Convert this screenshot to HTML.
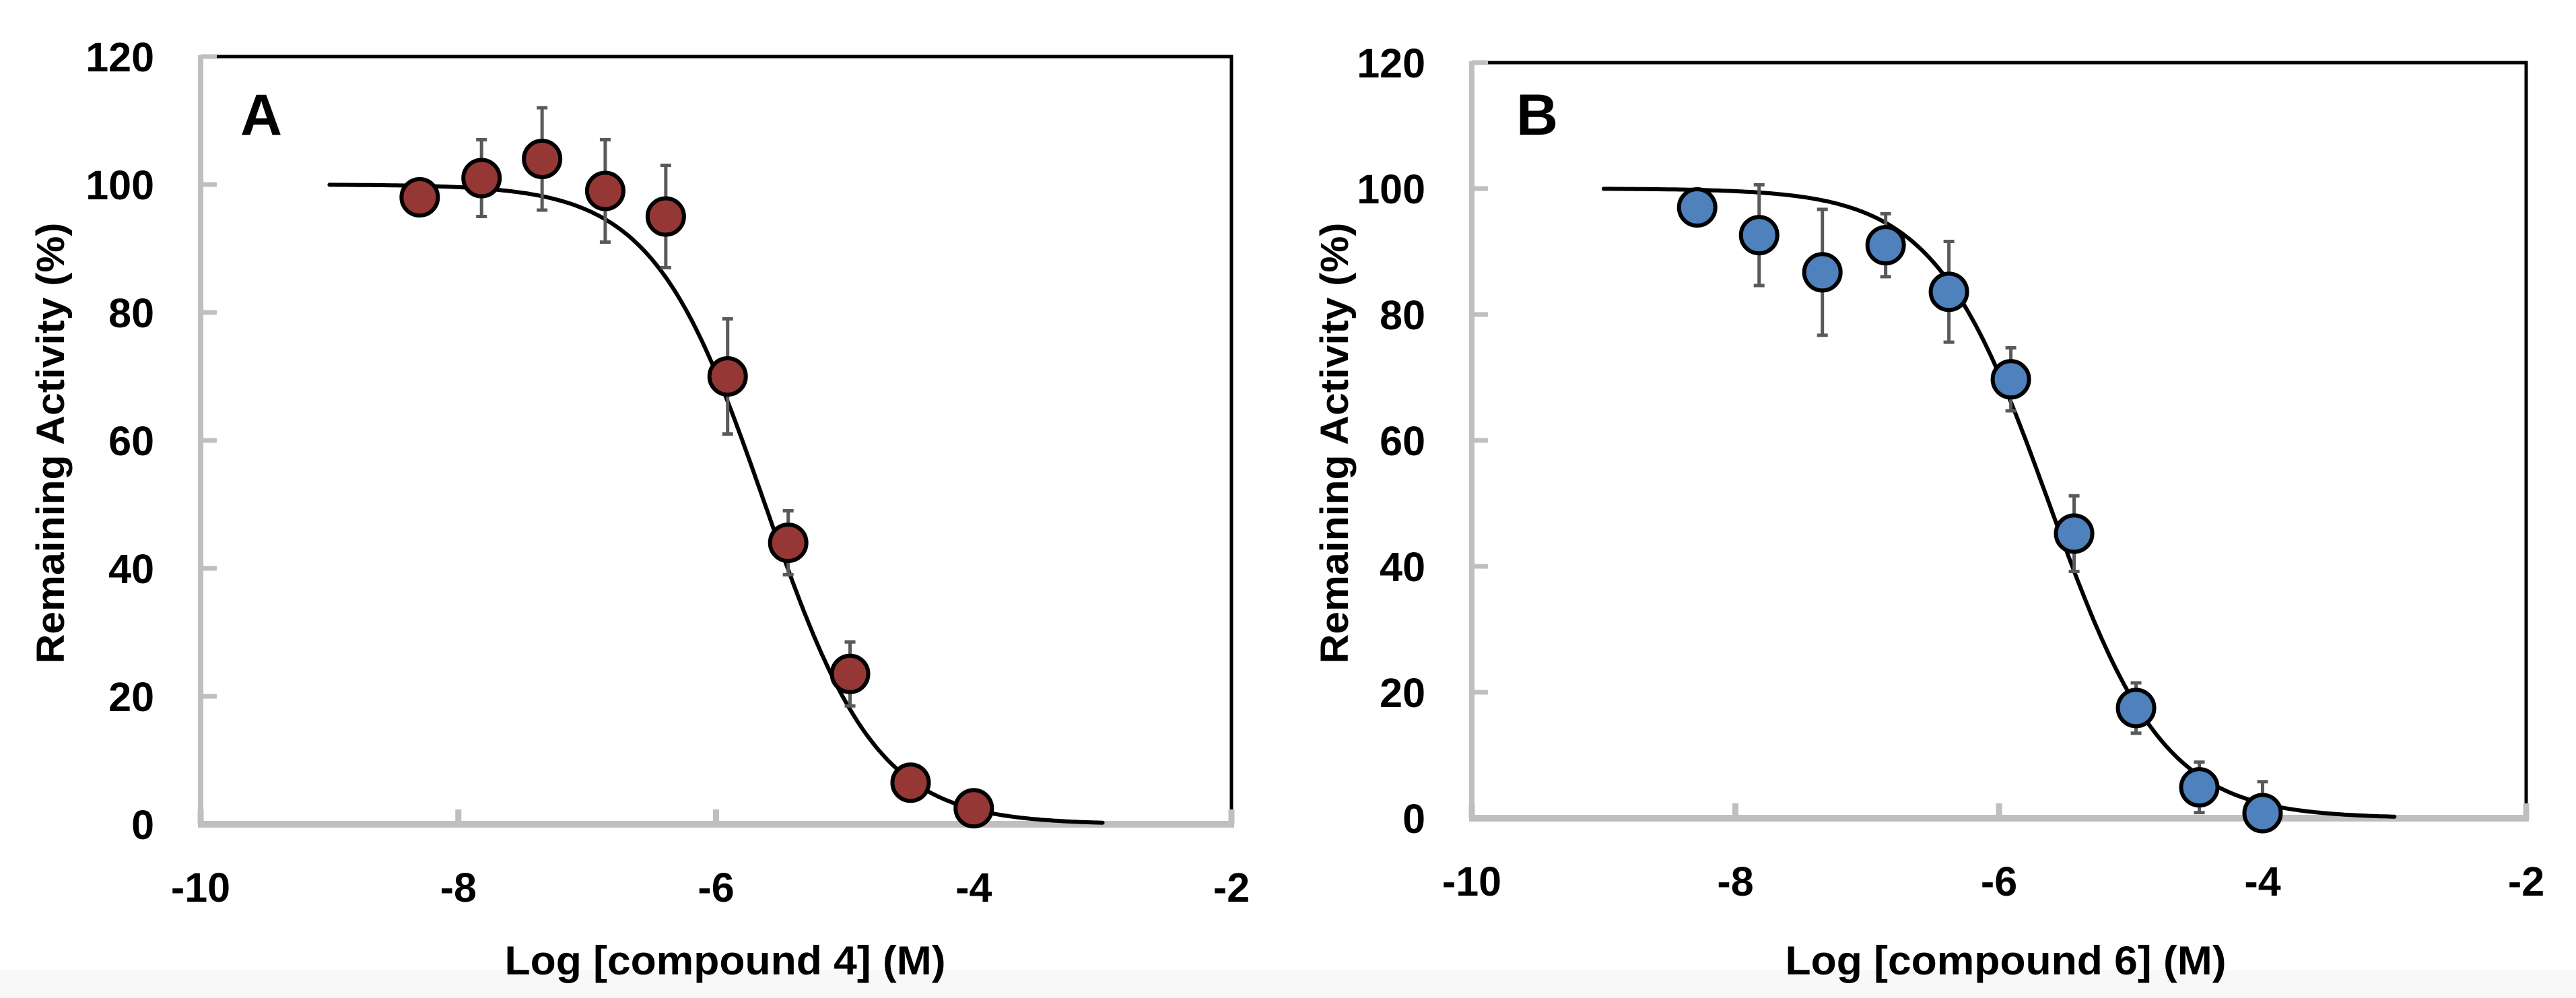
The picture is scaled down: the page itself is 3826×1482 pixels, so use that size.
<!DOCTYPE html>
<html><head><meta charset="utf-8">
<style>
html,body{margin:0;padding:0;background:#fff;}
svg{display:block;}
text{font-family:"Liberation Sans",sans-serif;font-weight:bold;fill:#000;}
</style></head>
<body>
<svg id="fig" width="3826" height="1482" viewBox="0 0 3826 1482" xmlns="http://www.w3.org/2000/svg">
<rect x="0" y="0" width="3826" height="1482" fill="#fff"/>
<rect x="0" y="1440" width="3826" height="42" fill="#f8f8f8"/>
</svg>
<script>
const xTicks = [-10, -8, -6, -4, -2];
const yTicks = [0, 20, 40, 60, 80, 100, 120];
const xA = [-8.30, -7.82, -7.35, -6.86, -6.39, -5.91, -5.44, -4.96, -4.49, -4.00];
const yA = [98, 101, 104, 99, 95, 70, 44, 23.5, 6.5, 2.5];
const errA = [0, 6, 8, 8, 8, 9, 5, 5, 0, 0];
const fitA = [100, 0, -5.62, 1.0];
const xB = [-8.29, -7.82, -7.34, -6.86, -6.38, -5.91, -5.43, -4.96, -4.48, -4.00];
const yB = [97, 92.6, 86.7, 91, 83.6, 69.7, 45.2, 17.5, 4.9, 0.8];
const errB = [0, 8, 10, 5, 8, 5, 6, 4, 4, 5];
const fitB = [100, 0, -5.62, 1.0];

const NS = 'http://www.w3.org/2000/svg';
const svg = document.getElementById('fig');
function mk(tag, attrs, parent){
  const e = document.createElementNS(NS, tag);
  for (const k in attrs) e.setAttribute(k, attrs[k]);
  (parent || svg).appendChild(e);
  return e;
}
function panel(cfg){
  const g = mk('g', {});
  
  
  const sx = v => cfg.x0 + (v - (-10)) / 8 * (cfg.x1 - cfg.x0);
  const sy = v => cfg.y0 - v / 120 * (cfg.y0 - cfg.y1);
  const tb = mk('polyline', {points: `${cfg.x0+24},${cfg.y1} ${cfg.x1},${cfg.y1} ${cfg.x1},${cfg.y0-22}`, fill:'none', stroke:'#000', 'stroke-width':5}, g);
  
  
  const la = mk('line', {x1:cfg.x0, y1:cfg.y1-2, x2:cfg.x0, y2:cfg.y0+5, stroke:'#bfbfbf', 'stroke-width':8}, g);
  
  
  const ba = mk('line', {x1:cfg.x0-4, y1:cfg.y0, x2:cfg.x1+4, y2:cfg.y0, stroke:'#bfbfbf', 'stroke-width':10}, g);
  
  
  yTicks.forEach(v => {
    const y = sy(v);
    if (v > 0) {
      const t = mk('line', {x1:cfg.x0, y1:y, x2:cfg.x0+24, y2:y, stroke:'#bfbfbf', 'stroke-width':7}, g);
      
      
    }
    const lb = mk('text', {x:cfg.labR, y:y+22, 'font-size':61, 'text-anchor':'end'}, g);
    lb.textContent = v;
    
    
  });
  xTicks.forEach(v => {
    const x = sx(v);
    const t = mk('line', {x1:x, y1:cfg.y0, x2:x, y2:cfg.y0-22, stroke:'#bfbfbf', 'stroke-width':9}, g);
    
    
    const lb = mk('text', {x:x, y:cfg.y0+115, 'font-size':61, 'text-anchor':'middle'}, g);
    lb.textContent = v;
    
    
  });
  const xt = mk('text', {x:cfg.xtx, y:1447, 'font-size':60, 'text-anchor':'middle', textLength:655, lengthAdjust:'spacingAndGlyphs'}, g);
  xt.textContent = cfg.xtitle;
  
  
  const yt = mk('text', {x:0, y:0, 'font-size':58, 'text-anchor':'middle', textLength:655, lengthAdjust:'spacingAndGlyphs', transform:`translate(${cfg.ytx+21},658) rotate(-90)`}, g);
  yt.textContent = 'Remaining Activity (%)';
  
  
  const pl = mk('text', {x:cfg.letX, y:200, 'font-size':86}, g);
  pl.textContent = cfg.letter;
  
  
  const [top, bot, ic, h] = cfg.fit;
  let d = '';
  for (let i = 0; i <= 300; i++) {
    const lx = -9 + 6 * i / 300;
    const v = bot + (top - bot) / (1 + Math.pow(10, (lx - ic) * h));
    d += (i ? 'L' : 'M') + sx(lx).toFixed(1) + ',' + sy(v).toFixed(1);
  }
  const c = mk('path', {d:d, fill:'none', stroke:'#000', 'stroke-width':6, 'stroke-linecap':'round'}, g);
  
  
  cfg.xs.forEach((xv, i) => {
    const e = cfg.err[i];
    if (!e) return;
    const x = sx(xv), ya = sy(cfg.ys[i] + e);
    const lowV = cfg.ys[i] - e;
    let dd = `M${x},${ya}V${sy(Math.max(lowV, 0))}M${x-8},${ya}H${x+8}`;
    if (lowV > 0) dd += `M${x-8},${sy(lowV)}H${x+8}`;
    const eb = mk('path', {d:dd, stroke:'#595959', 'stroke-width':5, fill:'none'}, g);
    
    
  });
  cfg.xs.forEach((xv, i) => {
    const p = mk('ellipse', {cx:sx(xv), cy:sy(cfg.ys[i]), rx:27, ry:27, fill:cfg.color, stroke:'#000', 'stroke-width':6}, g);
    
    
  });
}
panel({id:'a', x0:298, x1:1829, y0:1224, y1:84, labR:229, xtx:1077, ytx:74, letX:357, letter:'A',
  xtitle:'Log [compound 4] (M)', xs:xA, ys:yA, err:errA, fit:fitA, color:'#953735'});
panel({id:'b', x0:2186, x1:3752, y0:1215, y1:93, labR:2117, xtx:2979, ytx:1981, letX:2252, letter:'B',
  xtitle:'Log [compound 6] (M)', xs:xB, ys:yB, err:errB, fit:fitB, color:'#4f81bd'});
</script>
</body></html>
